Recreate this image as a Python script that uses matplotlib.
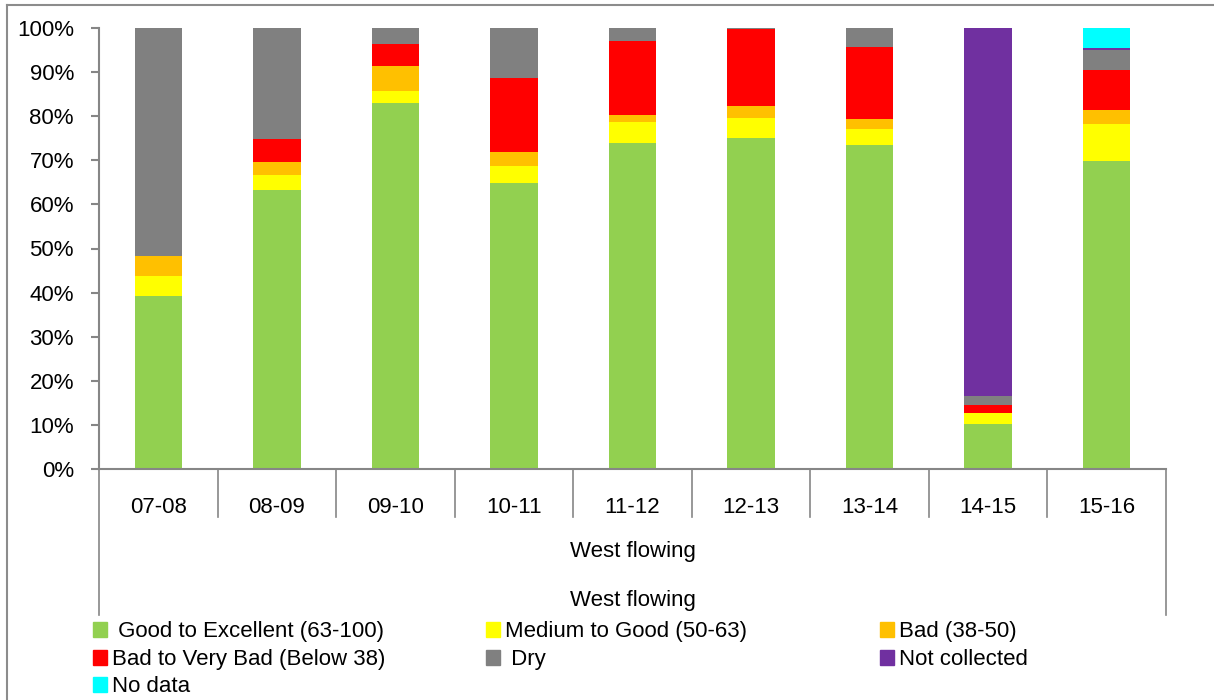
import matplotlib
matplotlib.use("Agg")
import matplotlib.pyplot as plt
import matplotlib.patches as patches
from matplotlib.lines import Line2D
import numpy as np

plt.rcParams['font.family'] = ['Liberation Sans', 'DejaVu Sans']

# Data (percent of stations per water-quality class)
years = ['07-08', '08-09', '09-10', '10-11', '11-12', '12-13', '13-14', '14-15', '15-16']
good = [39.3, 63.3, 83.0, 64.9, 73.9, 75.1, 73.5, 10.1, 69.8]
medium = [4.4, 3.3, 2.8, 3.9, 4.8, 4.5, 3.6, 2.5, 8.4]
bad = [4.5, 3.1, 5.6, 3.0, 1.5, 2.8, 2.2, 0.2, 3.1]
very_bad = [0.0, 5.2, 4.9, 16.9, 16.8, 17.3, 16.5, 1.6, 9.2]
dry = [51.8, 25.1, 3.7, 11.3, 3.0, 0.3, 4.2, 2.2, 4.5]
not_collected = [0, 0, 0, 0, 0, 0, 0, 83.4, 0.5]
no_data = [0, 0, 0, 0, 0, 0, 0, 0, 4.5]

series = [good, medium, bad, very_bad, dry, not_collected, no_data]
names = [' Good to Excellent (63-100)', 'Medium to Good (50-63)', 'Bad (38-50)',
         'Bad to Very Bad (Below 38)', ' Dry', 'Not collected', 'No data']
colors = ['#92D050', '#FFFF00', '#FFC000', '#FF0000', '#808080', '#7030A0', '#00FFFF']

W, H = 1214, 700
fig = plt.figure(figsize=(W / 100, H / 100), dpi=100)
ax = fig.add_axes([99 / W, (H - 469) / H, (1166 - 99) / W, 441 / H])

x = np.arange(len(years))
bottom = np.zeros(len(years))
for vals, col, name in zip(series, colors, names):
    vals = np.array(vals) / 100.0
    ax.bar(x, vals, 0.4, bottom=bottom, color=col, edgecolor='none', label=name)
    bottom += vals

grey = '#868686'
ax.set_xlim(-0.5, len(years) - 0.5)
ax.set_ylim(0, 1)
ax.set_yticks(np.linspace(0, 1, 11))
ax.set_yticklabels([f'{int(v)}%' for v in np.linspace(0, 100, 11)], fontsize=16)
ax.tick_params(axis='y', length=6, width=1.5, color=grey, pad=12)
ax.set_xticks(x)
ax.set_xticklabels(years, fontsize=16)
ax.tick_params(axis='x', length=0, pad=20)
for s in ['top', 'right']:
    ax.spines[s].set_visible(False)
for s in ['left', 'bottom']:
    ax.spines[s].set_color(grey)
    ax.spines[s].set_linewidth(1.5)

# category separators below the axis
trans = ax.get_xaxis_transform()
for i in range(len(years) + 1):
    b = i - 0.5
    y_end = -0.331 if i in (0, len(years)) else -0.109
    ax.add_line(Line2D([b, b], [0, y_end], transform=trans, color=grey,
                       lw=1.2, clip_on=False))

mid = (len(years) - 1) / 2
ax.text(mid, -0.188, 'West flowing', transform=trans, ha='center', va='center', fontsize=16)
ax.text(mid, -0.2985, 'West flowing', transform=trans, ha='center', va='center', fontsize=16)

# legend laid out in 3 columns, row-major
col_x = [100, 493, 887]
row_y = [630, 658, 685]
for k, (name, col) in enumerate(zip(names, colors)):
    cx = col_x[k % 3]
    cy = row_y[k // 3]
    fig.add_artist(patches.Rectangle(((cx - 7) / W, (H - cy - 7) / H), 14 / W, 15 / H,
                                     transform=fig.transFigure, color=col))
    fig.text((cx + 12) / W, (H - cy - 7) / H, name, ha='left', va='baseline', fontsize=16)

# outer chart border
fig.add_artist(Line2D([7 / W, 1], [1 - 5 / H, 1 - 5 / H], transform=fig.transFigure,
                      color='#8c8c8c', lw=1.5))
fig.add_artist(Line2D([7 / W, 7 / W], [0, 1 - 5 / H], transform=fig.transFigure,
                      color='#8c8c8c', lw=1.5))

fig.savefig('out.png', dpi=100)
